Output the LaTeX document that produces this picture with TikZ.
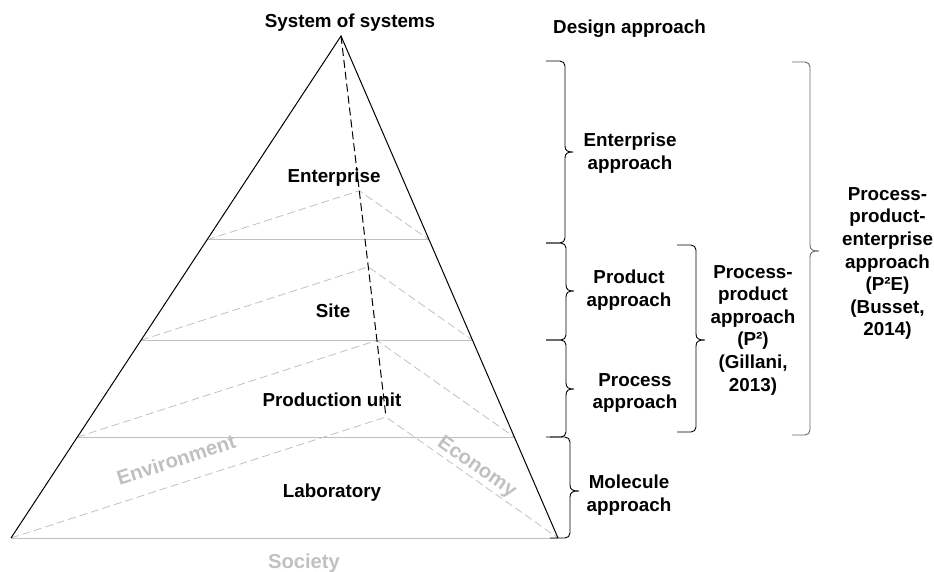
\documentclass[tikz,border=0pt]{standalone}
\usepackage{fontspec}
\setmainfont{Liberation Sans}
\usetikzlibrary{calc}
\definecolor{lightgrey}{RGB}{192,192,192}
\tikzset{
  tag/.style       = {font=\bfseries\fontsize{18.8}{22.6}\selectfont,
                      align=center, inner sep=0pt},
  face/.style      = {tag, font=\bfseries\fontsize{20.2}{24}\selectfont,
                      text=lightgrey},
  slice/.style     = {draw=lightgrey, line width=1pt},
  hidden/.style    = {draw=lightgrey, line width=0.8pt, dash pattern=on 8pt off 4pt},
  rim/.style       = {draw, line width=1pt},
  curlyline/.style = {draw, line width=0.9pt}
}
% curly bracket: start x, vertical x, tip x, top y, tip y, bottom y
\newcommand{\curly}[7][]{%
  \draw[curlyline, #1] (#2,#5) [rounded corners=5pt] -- (#3,#5) [sharp corners]
    -- (#3,#6-6) .. controls (#3,#6-1) and (#3+3,#6) .. (#4,#6)
    .. controls (#3+3,#6) and (#3,#6+1) .. (#3,#6+6)
    [rounded corners=5pt] -- (#3,#7) -- (#2,#7);
}

\begin{document}
\begin{tikzpicture}[x=1pt, y=-1pt]
  \useasboundingbox (0,0) rectangle (934,571);

  % corners of the pyramid
  \coordinate (apex)  at (341,36);
  \coordinate (left)  at (11,538);
  \coordinate (right) at (558,538);
  \coordinate (back)  at (386,417);

  % layers
  \foreach \t in {0.406,0.606,0.799,1} {
    \draw[slice] ($(apex)!\t!(left)$) -- ($(apex)!\t!(right)$);
    \draw[hidden] ($(apex)!\t!(left)$) -- ($(apex)!\t!(back)$)
                  -- ($(apex)!\t!(right)$);
  }
  \draw[rim] (left) -- (apex) -- (right);
  \draw[rim, dash pattern=on 8pt off 4pt] (apex) -- (back);

  % levels
  \node[tag, anchor=base] (sos)  at (350,27.5)  {System of systems};
  \node[tag, anchor=base] (ent)  at (334,182.5) {Enterprise};
  \node[tag, anchor=base] (site) at (333,317.5) {Site};
  \node[tag, anchor=base] (unit) at (332,406.5) {Production unit};
  \node[tag, anchor=base] (lab)  at (332,497.5) {Laboratory};

  % sides
  \node[face, rotate=18]  (env) at (176,459.5) {Environment};
  \node[face, rotate=-35] (eco) at (476.5,467.5) {Economy};
  \node[face, anchor=base] (soc) at (304,568.5) {Society};

  % design approaches
  \node[tag, anchor=base] (design) at (629.5,33.5) {Design approach};

  \curly{546}{565}{573}{61}{152}{243}
  \curly{546}{566}{574}{243}{291}{340}
  \curly{546}{566}{574}{340}{389}{437}
  \curly{550}{570}{579}{437}{491}{538}
  \curly{677}{696}{705}{245}{340}{432}
  \curly[draw=black!60]{792}{810}{819}{62}{251}{435}

  \node[tag] (entapp)  at (630,153) {Enterprise\\approach};
  \node[tag] (prodapp) at (629,290) {Product\\approach};
  \node[tag] (procapp) at (635,393) {Process\\approach};
  \node[tag] (molapp)  at (629,495) {Molecule\\approach};
  \node[tag] (ppapp)   at (753,330)
    {Process-\\product\\approach\\(P²)\\(Gillani,\\2013)};
  \node[tag] (ppeapp)  at (887.5,263.5)
    {Process-\\product-\\enterprise\\approach\\(P²E)\\(Busset,\\2014)};
\end{tikzpicture}
\end{document}
